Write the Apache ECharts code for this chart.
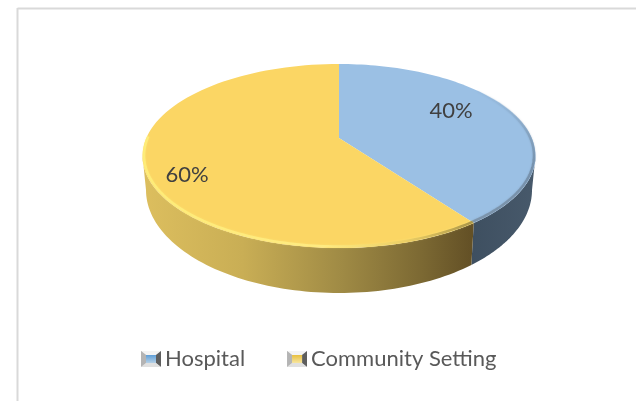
<!DOCTYPE html>
<html>
<head>
<meta charset="utf-8">
<style>html,body{margin:0;padding:0;background:#fff}#c{width:636px;height:401px}</style>
<script src="https://cdn.jsdelivr.net/npm/echarts@6/dist/echarts.min.js"></script>
</head>
<body>
<div id="c"></div>
<script>
const categories = ['Hospital', 'Community Setting'];
const shares = [40, 60];
const tickLabels = ['40%', '60%'];

const TOP = {cx: 339, cy: 156, rx: 196.5, ry: 92};
const BOT = {cx: 339, cy: 190, rx: 193, ry: 103};
const INNER = {cx: 339, cy: 155.5, rx: 195, ry: 91};
const APEX = {x: 339, y: 138, kx: 196.5, ky: 90};
const LABEL_POS = [[451, 111], [187, 175]];
const FACE = ['#9bc0e4', '#fbd664'];
const total = shares.reduce((a, b) => a + b, 0);
const rad = d => d * Math.PI / 180;

function rimPoint(theta) {
  const dx = Math.sin(theta) * APEX.kx, dy = -Math.cos(theta) * APEX.ky;
  const ox = (APEX.x - TOP.cx) / TOP.rx, oy = (APEX.y - TOP.cy) / TOP.ry;
  const ux = dx / TOP.rx, uy = dy / TOP.ry;
  const a = ux * ux + uy * uy, b = 2 * (ox * ux + oy * uy), c = ox * ox + oy * oy - 1;
  const t = (-b + Math.sqrt(b * b - 4 * a * c)) / (2 * a);
  return [APEX.x + t * dx, APEX.y + t * dy];
}
function phiOf(theta) {
  const p = rimPoint(theta);
  let f = Math.atan2((p[0] - TOP.cx) / TOP.rx, -(p[1] - TOP.cy) / TOP.ry);
  if (f < -1e-6) f += 2 * Math.PI;
  return f;
}
function ell(e, f) { return [e.cx + e.rx * Math.sin(f), e.cy - e.ry * Math.cos(f)]; }
function range(a, b, n) { const r = []; for (let i = 0; i <= n; i++) r.push(a + (b - a) * i / n); return r; }
function grad(x0, x1, stops) {
  return {type: 'linear', x: x0, y: 0, x2: x1, y2: 0, global: true,
    colorStops: stops.map(s => ({offset: s[0], color: s[1]}))};
}
function gradY(y0, y1, stops) {
  return {type: 'linear', x: 0, y: y0, x2: 0, y2: y1, global: true,
    colorStops: stops.map(s => ({offset: s[0], color: s[1]}))};
}
const sideFill = [
  grad(470, 535, [[0, '#3e4f60'], [1, '#47596b']]),
  grad(145, 470, [[0, '#dcbe5e'], [0.3, '#c9ae55'], [0.6, '#a08b45'], [0.85, '#7c6933'], [1, '#645126']])
];
const rimFill = [
  gradY(85, 222, [[0, 'rgba(155,192,228,0)'], [0.35, '#83a0bc'], [0.6, '#6c849c'], [1, '#76899c']]),
  grad(142, 472, [[0, '#fff27c'], [0.55, '#fff08a'], [0.8, '#e4c862'], [1, '#8a7838']])
];

function renderSlice(idx) {
  return function (params, api) {
    const before = shares.slice(0, idx).reduce((a, b) => a + b, 0);
    const value = api.value(0);
    const t0 = before / total * 2 * Math.PI, t1 = (before + value) / total * 2 * Math.PI;
    const thetas = range(t0, t1, 90);
    const facePts = [[APEX.x, APEX.y]].concat(thetas.map(rimPoint));
    const children = [];
    const p0 = phiOf(t0);
    const p1 = t1 >= 2 * Math.PI - 1e-6 ? 2 * Math.PI : phiOf(t1);
    const f0 = Math.max(p0, rad(90));
    const f1 = Math.min(p1, rad(270));
    if (f1 > f0) {
      const fs = range(f0, f1, 80);
      const side = fs.map(f => ell(TOP, f)).concat(fs.slice().reverse().map(f => ell(BOT, f)));
      children.push({type: 'polygon', shape: {points: side}, style: {fill: sideFill[idx]}});
    }
    children.push({type: 'polygon', shape: {points: facePts}, style: {fill: FACE[idx]}});
    const r0 = idx === 0 ? rad(45) : p0;
    const r1 = idx === 0 ? p1 : Math.min(p1, rad(282));
    const rs = range(r0, r1, 100);
    children.push({type: 'polyline', shape: {points: rs.map(f => ell(INNER, f))},
      style: {fill: 'none', stroke: rimFill[idx], lineWidth: 2.5, opacity: 0.7,
        shadowBlur: 2, shadowColor: idx === 0 ? 'rgba(100,125,150,0.5)' : 'rgba(255,240,130,0.6)'}});
    children.push({type: 'text', style: {
      text: tickLabels[idx], x: LABEL_POS[idx][0], y: LABEL_POS[idx][1],
      align: 'center', verticalAlign: 'middle',
      font: '22px Lato', fill: '#404040'}});
    return {type: 'group', children};
  };
}

function iconUri(c1, c2) {
  const svg = "<svg xmlns='http://www.w3.org/2000/svg' width='20' height='16'>" +
    "<defs><linearGradient id='g' x1='0' y1='0' x2='0' y2='1'><stop offset='0' stop-color='" + c1 + "'/><stop offset='1' stop-color='" + c2 + "'/></linearGradient></defs>" +
    "<rect width='20' height='16' fill='#d0d0d0'/>" +
    "<polygon points='0,0 20,0 15,4 5,4' fill='#f4f4f4'/>" +
    "<polygon points='0,0 5,4 5,12 0,16' fill='#b4b4b4'/>" +
    "<polygon points='20,0 15,4 15,12 20,16' fill='#5e5e5e'/>" +
    "<polygon points='0,16 5,12 15,12 20,16' fill='#e0e0e0'/>" +
    "<rect x='5' y='4' width='10' height='8' fill='url(#g)'/></svg>";
  return 'image://data:image/svg+xml;charset=utf-8,' + encodeURIComponent(svg);
}

const chart = echarts.init(document.getElementById('c'), null, {renderer: 'canvas'});
chart.setOption({
  animation: false,
  backgroundColor: '#ffffff',
  graphic: [
    {type: 'line', shape: {x1: 17.5, y1: 8.5, x2: 636, y2: 8.5}, style: {stroke: '#d9d9d9', lineWidth: 2}},
    {type: 'line', shape: {x1: 17.5, y1: 8, x2: 17.5, y2: 401}, style: {stroke: '#d9d9d9', lineWidth: 2}}
  ],
  legend: {
    left: 141, top: 348, padding: 0, itemWidth: 20, itemHeight: 16, itemGap: 42,
    data: [
      {name: categories[0], icon: iconUri('#5f9fd8', '#b5d0e6')},
      {name: categories[1], icon: iconUri('#e8bf3f', '#f7e6a0')}
    ],
    textStyle: {fontFamily: 'Lato', fontSize: 22, color: '#595959', padding: [0, 0, 0, -1]}
  },
  series: categories.map((name, i) => ({
    type: 'custom', name, coordinateSystem: 'none',
    renderItem: renderSlice(i), data: [[shares[i]]],
    itemStyle: {color: FACE[i]}, silent: true
  }))
});
</script>
</body>
</html>
